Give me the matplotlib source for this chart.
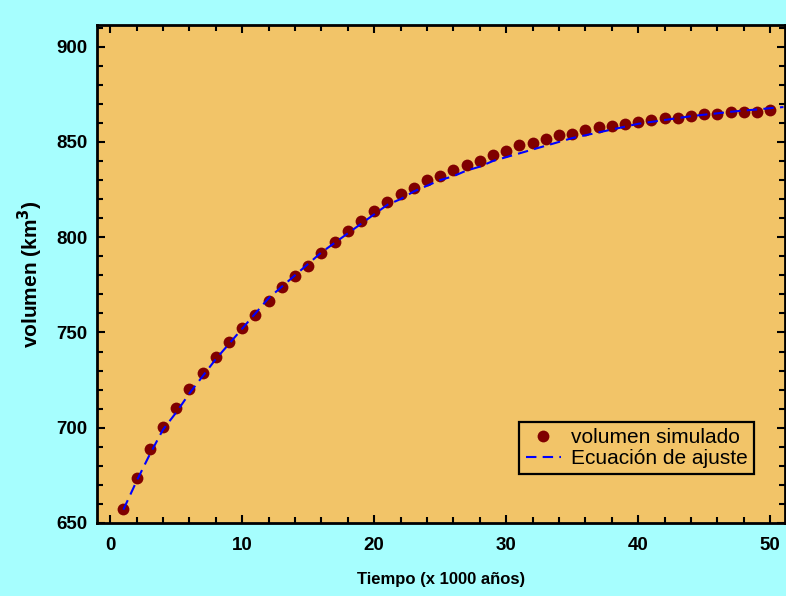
import matplotlib
matplotlib.use("Agg")
import matplotlib.pyplot as plt
from matplotlib.ticker import MultipleLocator

# tiempo (x 1000 años) y volumen simulado (km3)
tiempo = list(range(1, 51))
volumen_simulado = [
    657.4, 673.6, 689.0, 700.4, 710.4, 720.4, 728.8, 737.2, 745.0, 752.4,
    759.2, 766.6, 774.0, 779.7, 785.0, 791.8, 797.5, 803.5, 808.5, 813.5,
    818.7, 822.8, 825.9, 830.0, 832.0, 835.0, 838.0, 840.1, 843.0, 845.2,
    848.3, 849.2, 851.6, 853.4, 854.3, 856.5, 857.6, 858.5, 859.6, 860.6,
    861.5, 862.5, 862.6, 863.8, 864.6, 864.8, 865.8, 865.7, 865.9, 866.9,
]

# ecuacion de ajuste
tiempo_ajuste = list(range(1, 52))
volumen_ajuste = [
    657.0, 672.0, 686.0, 699.0, 708.0, 718.0, 727.0, 736.0, 744.0, 752.0,
    760.0, 768.0, 774.0, 780.0, 786.0, 792.0, 797.0, 802.0, 807.0, 812.0,
    817.0, 820.0, 824.0, 827.0, 830.0, 832.0, 835.0, 837.0, 840.0, 842.0,
    844.0, 846.0, 848.0, 850.0, 852.0, 853.5, 855.0, 856.5, 858.0, 859.5,
    860.5, 861.5, 862.5, 863.5, 864.3, 865.0, 865.8, 866.5, 867.0, 867.7,
    868.3,
]

BG_COLOR = "#A6FEFE"
AX_COLOR = "#F2C468"

plt.rcParams["font.family"] = ["Liberation Sans", "DejaVu Sans"]

fig = plt.figure(figsize=(7.86, 5.96), dpi=100, facecolor=BG_COLOR)
ax = fig.add_axes([0.1234, 0.1225, 0.875, 0.836])
ax.set_facecolor(AX_COLOR)

ax.plot(tiempo, volumen_simulado, "o", color="#800000", markersize=8.5,
        markeredgewidth=0, label="volumen simulado", zorder=2)
ax.plot(tiempo_ajuste, volumen_ajuste, "--", color="#0000FF", linewidth=1.5,
        dashes=(5, 3), label="Ecuación de ajuste", zorder=3)

ax.set_xlim(-1, 51.1)
ax.set_ylim(650, 911.5)
ax.xaxis.set_major_locator(MultipleLocator(10))
ax.xaxis.set_minor_locator(MultipleLocator(2))
ax.yaxis.set_major_locator(MultipleLocator(50))
ax.yaxis.set_minor_locator(MultipleLocator(10))

ax.tick_params(which="both", direction="in", top=True, right=True, width=1.5)
ax.tick_params(which="major", length=6, labelsize=13.5)
ax.tick_params(axis="x", which="major", pad=10)
ax.tick_params(axis="y", which="major", pad=7)
ax.tick_params(which="minor", length=4)
for lab in ax.get_xticklabels() + ax.get_yticklabels():
    lab.set_fontweight("bold")

for spine in ax.spines.values():
    spine.set_linewidth(2)
    spine.set_color("black")

ax.set_xlabel("Tiempo (x 1000 años)", fontsize=12, fontweight="bold", labelpad=13)
ax.set_ylabel(r"volumen (km$^{\mathbf{3}}$)", fontsize=15, fontweight="bold", labelpad=8)

leg = ax.legend(loc="lower right", bbox_to_anchor=(0.956, 0.098), fontsize=15,
                frameon=True, fancybox=False, edgecolor="black", facecolor=AX_COLOR,
                framealpha=1, handlelength=1.7, handletextpad=0.5, borderpad=0.3,
                labelspacing=0.1, borderaxespad=0)
leg.get_frame().set_linewidth(1.6)

fig.savefig("out.png", dpi=100, facecolor=BG_COLOR)
